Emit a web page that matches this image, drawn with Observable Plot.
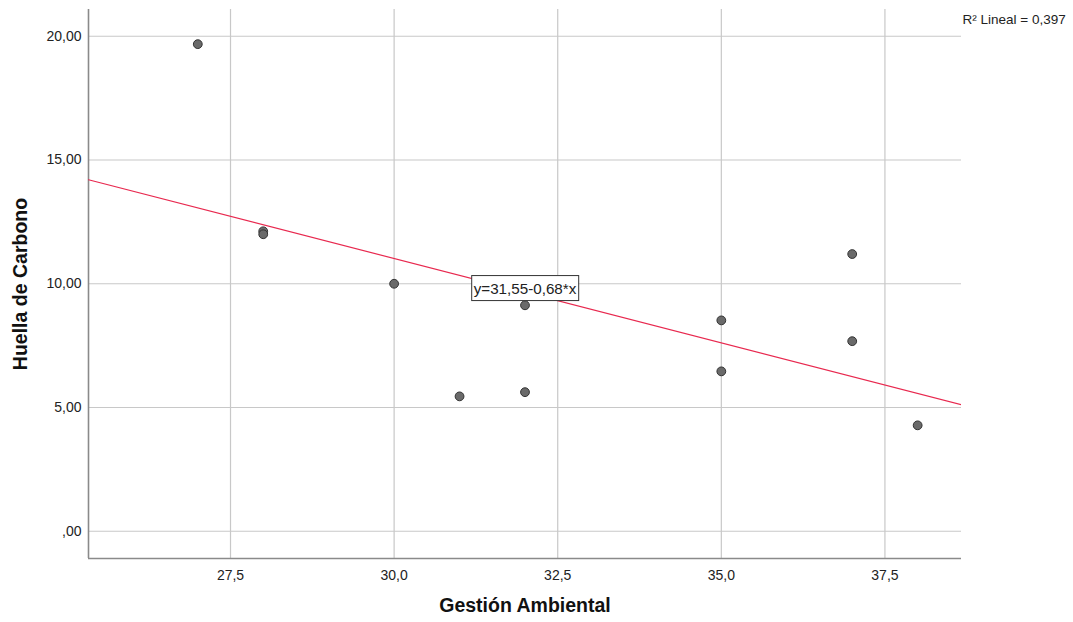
<!DOCTYPE html>
<html>
<head>
<meta charset="utf-8">
<script src="https://cdn.jsdelivr.net/npm/d3@7"></script>
<script src="https://cdn.jsdelivr.net/npm/@observablehq/plot@0.6"></script>
<style>
  html, body { margin: 0; padding: 0; background: #fff; }
  #chart { width: 1073px; height: 622px; }
</style>
</head>
<body>
<div id="chart"></div>
<script>
// Data
const gestion = [27, 28, 28, 30, 31, 32, 32, 35, 35, 37, 37, 38];
const huella  = [19.68, 12.12, 12.0, 10.0, 5.45, 9.13, 5.62, 8.52, 6.46, 11.2, 7.68, 4.28];
// fit line as drawn in the reference (unrounded coefficients)
const intercept = 31.45;
const slope = -0.681;
const r2Text = "R² Lineal = 0,397";
const eqText = "y=31,55-0,68*x";
const eqPos = {x: 32.0, y: 9.8};
const xTicks = [27.5, 30.0, 32.5, 35.0, 37.5];
const yTicks = [0, 5, 10, 15, 20];
const xDomain = [25.33, 38.67];
const yDomain = [-1.1, 21.08];

const pts = gestion.map((g, i) => ({x: g, y: huella[i]}));
const fitLine = xDomain.map(x => ({x, y: intercept + slope * x}));

const fmtY = v => v === 0 ? ",00" : d3.format(".2f")(v).replace(".", ",");
const fmtX = v => d3.format(".1f")(v).replace(".", ",");

const plot = Plot.plot({
  width: 1073,
  height: 622,
  marginLeft: 88,
  marginRight: 112,
  marginTop: 9,
  marginBottom: 64,
  style: {fontFamily: "Liberation Sans, Arial, sans-serif", fontSize: "14px", color: "#222", background: "#fff"},
  x: {domain: xDomain, ticks: xTicks, tickFormat: fmtX, label: null},
  y: {domain: yDomain, ticks: yTicks, tickFormat: fmtY, label: null},
  marks: [
    Plot.gridX(xTicks, {stroke: "#c8c8c8", strokeOpacity: 1, strokeWidth: 1.2}),
    Plot.gridY(yTicks, {stroke: "#c8c8c8", strokeOpacity: 1, strokeWidth: 1.2}),
    Plot.axisX(xTicks, {tickSize: 0, tickPadding: 12, tickFormat: fmtX, fontSize: 14, fill: "#222", label: null}),
    Plot.axisY(yTicks, {tickSize: 0, tickPadding: 7, tickFormat: fmtY, fontSize: 14, fill: "#222", label: null}),
    Plot.ruleX([xDomain[0]], {stroke: "#8a8a8a", strokeWidth: 1.6}),
    Plot.ruleY([yDomain[0]], {stroke: "#8a8a8a", strokeWidth: 1.6}),
    Plot.line(fitLine, {x: "x", y: "y", stroke: "#e8294f", strokeWidth: 1.2, clip: true}),
    Plot.dot(pts, {x: "x", y: "y", r: 4.4, fill: "#6a6a6a", stroke: "#333", strokeWidth: 1, fillOpacity: 1}),
    Plot.text([eqText], {x: eqPos.x, y: eqPos.y, text: d => d, fontSize: 15.2, fill: "#222", className: "eqlabel"}),
    Plot.text([r2Text], {frameAnchor: "top-right", text: d => d, textAnchor: "start", dx: 1, dy: 5, fontSize: 13.5, fill: "#222", className: "r2label"}),
    Plot.text(["Gestión Ambiental"], {frameAnchor: "bottom", text: d => d, dy: 53, fontSize: 19.5, fontWeight: "bold", fill: "#111"}),
    Plot.text(["Huella de Carbono"], {frameAnchor: "left", text: d => d, rotate: -90, textAnchor: "middle", dx: -68, fontSize: 19.5, fontWeight: "bold", fill: "#111"})
  ]
});
document.getElementById("chart").appendChild(plot);

// white box with border behind the equation label
const eq = plot.querySelector("g.eqlabel text");
if (eq) {
  const bb = eq.getBBox();
  const rect = document.createElementNS("http://www.w3.org/2000/svg", "rect");
  rect.setAttribute("x", bb.x - 2);
  rect.setAttribute("y", bb.y - 4);
  rect.setAttribute("width", bb.width + 4);
  rect.setAttribute("height", bb.height + 8);
  rect.setAttribute("fill", "#fff");
  rect.setAttribute("stroke", "#333");
  rect.setAttribute("stroke-width", 1);
  const tr = eq.getAttribute("transform");
  if (tr) rect.setAttribute("transform", tr);
  eq.parentNode.insertBefore(rect, eq);
}
</script>
</body>
</html>
